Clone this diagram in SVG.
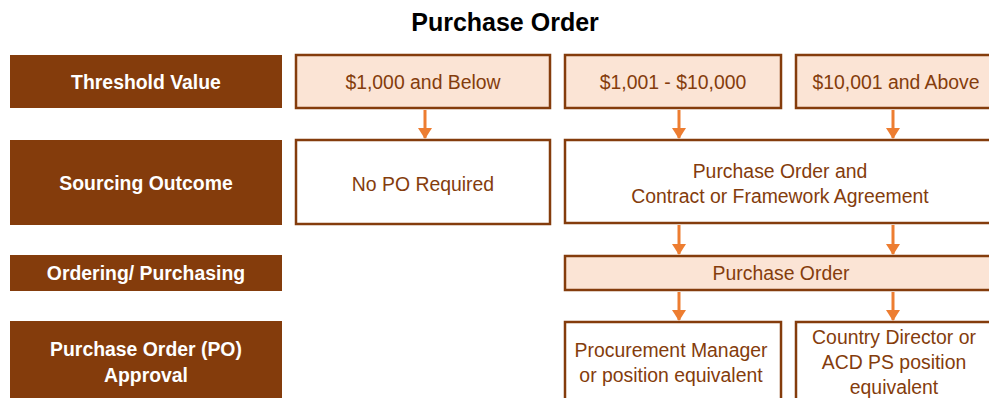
<svg xmlns="http://www.w3.org/2000/svg" width="989" height="398" viewBox="0 0 989 398">
<style>
.hdr{fill:#843c0c}
.hdrt{fill:#ffffff;font-family:"Liberation Sans",Arial,sans-serif;font-weight:bold;font-size:19.4px;text-anchor:middle;dominant-baseline:central}
.lt{fill:#fbe4d5;stroke:#843c0c;stroke-width:2.5}
.wt{fill:#ffffff;stroke:#843c0c;stroke-width:2.5}
.bt{fill:#843c0c;font-family:"Liberation Sans",Arial,sans-serif;font-size:19.4px;text-anchor:middle;dominant-baseline:central}
.con line{stroke:#ed7d31;stroke-width:3}
</style>
<defs>
<marker id="ah" markerUnits="userSpaceOnUse" markerWidth="11" markerHeight="14" refX="10" refY="7" orient="auto" viewBox="0 0 11 14">
<path d="M0,0 L11,7 L0,14 Z" fill="#ed7d31"/>
</marker>
</defs>
<text x="505" y="22" font-family="Liberation Sans,Arial,sans-serif" font-weight="bold" font-size="25" text-anchor="middle" dominant-baseline="central" fill="#000">Purchase Order</text>

<g id="h1"><rect class="hdr" x="10" y="55" width="272" height="53"/><text class="hdrt" x="146" y="82">Threshold Value</text></g>
<g id="h2"><rect class="hdr" x="10" y="140" width="272" height="85"/><text class="hdrt" x="146" y="183">Sourcing Outcome</text></g>
<g id="h3"><rect class="hdr" x="10" y="255" width="272" height="36"/><text class="hdrt" x="146" y="273">Ordering/ Purchasing</text></g>
<g id="h4"><rect class="hdr" x="10" y="321" width="272" height="80"/><text class="hdrt" x="146" y="349">Purchase Order (PO)</text><text class="hdrt" x="146" y="375">Approval</text></g>

<g id="t1"><rect class="lt" x="296" y="55" width="254" height="53"/><text class="bt" x="423" y="82">$1,000 and Below</text></g>
<g id="t2"><rect class="lt" x="565" y="55" width="216" height="53"/><text class="bt" x="673" y="82">$1,001 - $10,000</text></g>
<g id="t3"><rect class="lt" x="796" y="55" width="210" height="53"/><text class="bt" x="896" y="82">$10,001 and Above</text></g>

<g id="s1"><rect class="wt" x="296" y="140" width="254" height="84"/><text class="bt" x="423" y="184">No PO Required</text></g>
<g id="s2"><rect class="wt" x="565" y="140" width="441" height="83"/><text class="bt" x="780" y="171">Purchase Order and</text><text class="bt" x="780" y="196">Contract or Framework Agreement</text></g>

<g id="o1"><rect class="lt" x="565" y="256" width="441" height="34"/><text class="bt" x="781" y="273">Purchase Order</text></g>

<g id="a1"><rect class="wt" x="565" y="322" width="216" height="90"/><text class="bt" x="671" y="350">Procurement Manager</text><text class="bt" x="671" y="375">or position equivalent</text></g>
<g id="a2"><rect class="wt" x="796" y="322" width="210" height="90"/><text class="bt" x="894" y="337">Country Director or</text><text class="bt" x="894" y="362">ACD PS position</text><text class="bt" x="894" y="387">equivalent</text></g>

<g id="connectors" class="con">
<line x1="425" y1="110" x2="425" y2="138" marker-end="url(#ah)"/>
<line x1="679" y1="110" x2="679" y2="138" marker-end="url(#ah)"/>
<line x1="893" y1="110" x2="893" y2="138" marker-end="url(#ah)"/>
<line x1="679" y1="225" x2="679" y2="254" marker-end="url(#ah)"/>
<line x1="893" y1="225" x2="893" y2="254" marker-end="url(#ah)"/>
<line x1="679" y1="292" x2="679" y2="320" marker-end="url(#ah)"/>
<line x1="893" y1="292" x2="893" y2="320" marker-end="url(#ah)"/>
</g>
</svg>
